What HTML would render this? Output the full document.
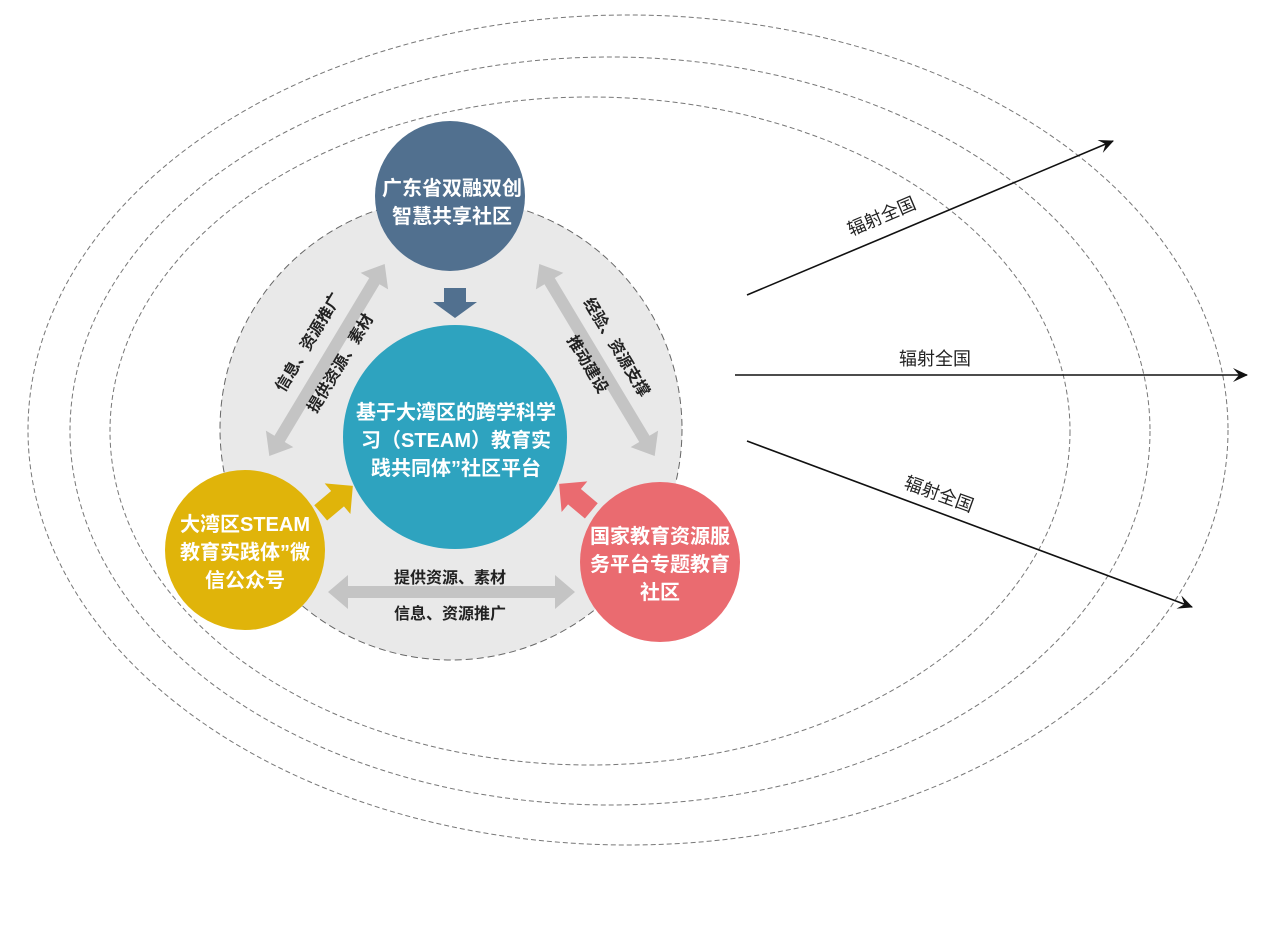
<!DOCTYPE html>
<html><head><meta charset="utf-8"><style>
html,body{margin:0;padding:0;background:#fff;}
svg{display:block;}
text{font-family:"Liberation Sans","Noto Sans CJK SC",sans-serif;}
.b{font-weight:bold;fill:#fff;}
.k{font-weight:bold;fill:#222;font-size:16px;}
.r{fill:#222;font-size:18px;}
</style></head><body>
<svg width="1285" height="930" viewBox="0 0 1285 930" xmlns="http://www.w3.org/2000/svg">
<defs>
<marker id="ah" markerWidth="16" markerHeight="14" refX="14" refY="7" orient="auto" markerUnits="userSpaceOnUse">
<path d="M0,0 L15,7 L0,14 L6,7 Z" fill="#111"/>
</marker>
</defs>
<g fill="none" stroke="#777" stroke-width="1" stroke-dasharray="5,3">
<ellipse cx="628" cy="430" rx="600" ry="415"/>
<ellipse cx="610" cy="431" rx="540" ry="374"/>
<ellipse cx="590" cy="431" rx="480" ry="334"/>
</g>
<circle cx="451" cy="429" r="231" fill="#e9e9e9" stroke="#666" stroke-width="1" stroke-dasharray="7,4"/>

<g fill="#c4c4c4">
<polygon points="328,592 348,575 348,586 555,586 555,575 575,592 555,609 555,598 348,598 348,609"/>
<g transform="translate(327,360) rotate(-59)">
<polygon points="-112,0 -92,-16 -92,-6 92,-6 92,-16 112,0 92,16 92,6 -92,6 -92,16"/>
</g>
<g transform="translate(597,360) rotate(59)">
<polygon points="-112,0 -92,-16 -92,-6 92,-6 92,-16 112,0 92,16 92,6 -92,6 -92,16"/>
</g>
</g>

<polygon points="444,288 466,288 466,302 477,302 455,318 433,302 444,302" fill="#51708f"/>
<g transform="translate(336,500) rotate(-40)">
<polygon points="-20,-10 2,-10 2,-20 22,0 2,20 2,10 -20,10" fill="#e0b40a"/>
</g>
<g transform="translate(576,498) rotate(-140)">
<polygon points="-20,-10 2,-10 2,-20 22,0 2,20 2,10 -20,10" fill="#ea6b70"/>
</g>

<circle cx="450" cy="196" r="75" fill="#51708f"/>
<circle cx="455" cy="437" r="112" fill="#2ea3bf"/>
<circle cx="245" cy="550" r="80" fill="#e0b40a"/>
<circle cx="660" cy="562" r="80" fill="#ea6b70"/>

<g class="b" font-size="20" text-anchor="middle">
<text x="452" y="195">广东省双融双创</text>
<text x="452" y="223">智慧共享社区</text>
</g>
<g class="b" font-size="20" text-anchor="middle">
<text x="456" y="419">基于大湾区的跨学科学</text>
<text x="456" y="447">习（STEAM）教育实</text>
<text x="456" y="475">践共同体”社区平台</text>
</g>
<g class="b" font-size="20" text-anchor="middle">
<text x="245" y="531">大湾区STEAM</text>
<text x="245" y="559">教育实践体”微</text>
<text x="245" y="587">信公众号</text>
</g>
<g class="b" font-size="20" text-anchor="middle">
<text x="660" y="543">国家教育资源服</text>
<text x="660" y="571">务平台专题教育</text>
<text x="660" y="599">社区</text>
</g>

<g class="k" text-anchor="middle">
<text x="450" y="583">提供资源、素材</text>
<text x="450" y="619">信息、资源推广</text>
<g transform="translate(313,345) rotate(-59)"><text x="0" y="0">信息、资源推广</text></g>
<g transform="translate(345,366) rotate(-59)"><text x="0" y="0">提供资源、素材</text></g>
<g transform="translate(612,350) rotate(59)"><text x="0" y="0">经验、资源支撑</text></g>
<g transform="translate(583,367) rotate(59)"><text x="0" y="0">推动建设</text></g>
</g>

<g stroke="#111" stroke-width="1.6" fill="none">
<line x1="747" y1="295" x2="1113" y2="141" marker-end="url(#ah)"/>
<line x1="735" y1="375" x2="1247" y2="375" marker-end="url(#ah)"/>
<line x1="747" y1="441" x2="1192" y2="607" marker-end="url(#ah)"/>
</g>
<g class="r" text-anchor="middle">
<g transform="translate(884,222) rotate(-23)"><text x="0" y="0">辐射全国</text></g>
<text x="935" y="365">辐射全国</text>
<g transform="translate(937,500) rotate(20)"><text x="0" y="0">辐射全国</text></g>
</g>
</svg>
</body></html>
